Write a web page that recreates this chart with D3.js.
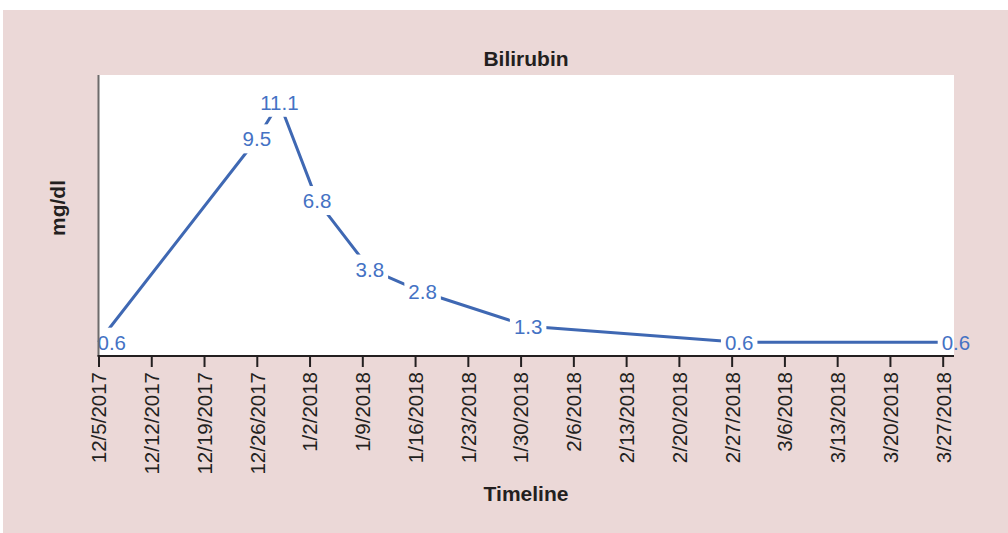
<!DOCTYPE html>
<html>
<head>
<meta charset="utf-8">
<script src="https://cdn.jsdelivr.net/npm/d3@7"></script>
<style>
  html, body { margin: 0; padding: 0; background: #ffffff; }
  svg { display: block; }
  text { font-family: "Liberation Sans", Arial, Helvetica, sans-serif; }
</style>
</head>
<body>
<svg id="chart" width="1008" height="533"></svg>
<script>
// Bilirubin measurements over time (mg/dl)
const sampleDates = ["2017-12-05", "2017-12-26", "2017-12-29", "2018-01-03", "2018-01-10",
                     "2018-01-17", "2018-01-31", "2018-02-28", "2018-03-27"];
const bilirubin = [0.6, 9.5, 11.1, 6.8, 3.8, 2.8, 1.3, 0.6, 0.6];

// Weekly axis ticks
const tickLabels = ["12/5/2017", "12/12/2017", "12/19/2017", "12/26/2017", "1/2/2018", "1/9/2018",
                    "1/16/2018", "1/23/2018", "1/30/2018", "2/6/2018", "2/13/2018", "2/20/2018",
                    "2/27/2018", "3/6/2018", "3/13/2018", "3/20/2018", "3/27/2018"];

const chartTitle = "Bilirubin";
const xTitle = "Timeline";
const yTitle = "mg/dl";
const yMax = 12.3;

const parseDate = d3.utcParse("%Y-%m-%d");
const parseTick = d3.utcParse("%m/%d/%Y");
const data = sampleDates.map((d, i) => ({ date: parseDate(d), value: bilirubin[i] }));
const tickDates = tickLabels.map(t => parseTick(t));

const W = 1008, H = 533;
const plot = { left: 98.5, right: 954, top: 75, bottom: 356 };

const svg = d3.select("#chart");

// panel background
svg.append("rect")
  .attr("x", 3).attr("y", 10).attr("width", W - 3).attr("height", H - 10)
  .attr("fill", "#ebd8d7");

// plot area
svg.append("rect")
  .attr("x", plot.left - 0.5).attr("y", plot.top)
  .attr("width", plot.right - plot.left + 0.5).attr("height", plot.bottom - plot.top)
  .attr("fill", "#ffffff");

svg.append("clipPath").attr("id", "plotClip")
  .append("rect")
  .attr("x", plot.left + 1).attr("y", plot.top)
  .attr("width", plot.right - plot.left - 1).attr("height", plot.bottom - plot.top - 1);

const x0 = tickDates[0];
const xEnd = d3.utcHour.offset(d3.utcDay.offset(tickDates[tickDates.length - 1], 1), 12);
const x = d3.scaleUtc().domain([x0, xEnd]).range([plot.left, plot.right]);
const y = d3.scaleLinear().domain([0, yMax]).range([plot.bottom, plot.top]);

// series line
const line = d3.line().x(d => x(d.date)).y(d => y(d.value));
svg.append("path")
  .datum(data)
  .attr("d", line)
  .attr("fill", "none")
  .attr("stroke", "#3f68b3")
  .attr("stroke-width", 3)
  .attr("stroke-linejoin", "round");

// data labels, each on a white box that hides the line beneath it
const labelLayer = svg.append("g");
const boxLayer = labelLayer.append("g").attr("clip-path", "url(#plotClip)");
const last = data.length - 1;
const labels = labelLayer.selectAll("text.val")
  .data(data)
  .join("text")
  .attr("class", "val")
  .attr("x", (d, i) => (i === 0 || i === last) ? x(d.date) - 1 : x(d.date))
  .attr("y", d => y(d.value))
  .attr("dy", "0.36em")
  .attr("text-anchor", (d, i) => (i === 0 || i === last) ? "start" : "middle")
  .attr("fill", "#4472c4")
  .attr("font-size", "20.5px")
  .text(d => d.value.toFixed(1));

labels.each(function () {
  const b = this.getBBox();
  boxLayer.append("rect")
    .attr("x", b.x - 4).attr("y", b.y - 3)
    .attr("width", b.width + 8).attr("height", b.height + 6)
    .attr("fill", "#ffffff");
});
labels.raise();

// left axis line
svg.append("line")
  .attr("x1", plot.left).attr("x2", plot.left)
  .attr("y1", plot.top).attr("y2", plot.bottom)
  .attr("stroke", "#6d6b6b").attr("stroke-width", 2);

// bottom axis
const xAxis = d3.axisBottom(x)
  .tickValues(tickDates)
  .tickSize(11)
  .tickFormat((d, i) => tickLabels[i]);

const gx = svg.append("g")
  .attr("transform", `translate(0,${plot.bottom})`)
  .call(xAxis);
gx.select(".domain").attr("stroke", "#231f20").attr("stroke-width", 2)
  .attr("d", `M${plot.left - 1},0H${plot.right}`);
gx.selectAll(".tick line").attr("stroke", "#231f20").attr("stroke-width", 2);
gx.selectAll(".tick text")
  .attr("fill", "#231f20")
  .attr("font-size", "20.5px")
  .attr("text-anchor", "end")
  .attr("transform", "translate(0,16) rotate(-90)")
  .attr("x", 0).attr("y", 0)
  .attr("dy", "0.36em");

// titles
svg.append("text")
  .attr("x", 526).attr("y", 66)
  .attr("text-anchor", "middle")
  .attr("font-weight", "bold").attr("font-size", "21px").attr("fill", "#231f20")
  .text(chartTitle);

svg.append("text")
  .attr("x", 526).attr("y", 501)
  .attr("text-anchor", "middle")
  .attr("font-weight", "bold").attr("font-size", "21px").attr("fill", "#231f20")
  .text(xTitle);

svg.append("text")
  .attr("transform", "translate(65,208) rotate(-90)")
  .attr("text-anchor", "middle")
  .attr("font-weight", "bold").attr("font-size", "21px").attr("fill", "#231f20")
  .text(yTitle);
</script>
</body>
</html>
